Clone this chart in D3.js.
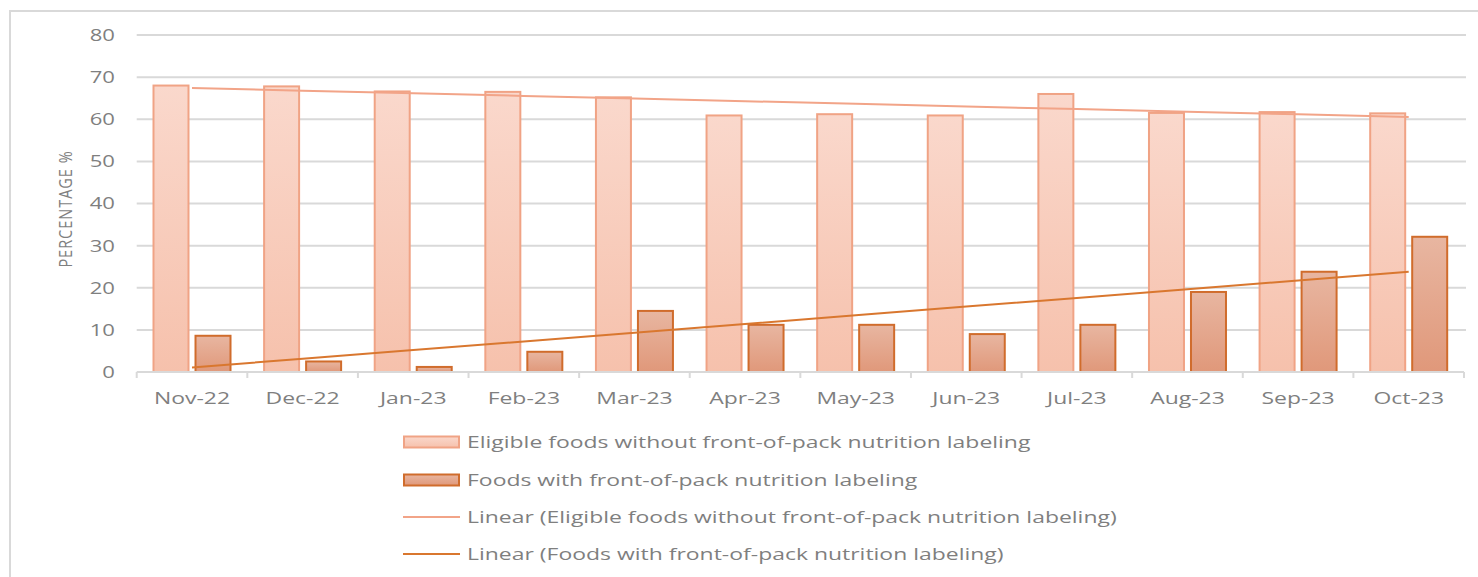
<!DOCTYPE html>
<html>
<head>
<meta charset="utf-8">
<script src="https://cdn.jsdelivr.net/npm/d3@7"></script>
<style>
  html, body { margin: 0; padding: 0; background: #ffffff; }
  svg { display: block; }
  text { font-family: "Open Sans", "Noto Sans", sans-serif; fill: #7f7f7f; }
</style>
</head>
<body>
<svg id="chart" width="1478" height="577"></svg>
<script>
// ---- data ----
const months = ["Nov-22","Dec-22","Jan-23","Feb-23","Mar-23","Apr-23","May-23","Jun-23","Jul-23","Aug-23","Sep-23","Oct-23"];
const eligibleWithout = [68.0, 67.8, 66.6, 66.5, 65.2, 60.9, 61.2, 60.9, 66.0, 61.5, 61.7, 61.4];
const withLabeling = [8.6, 2.5, 1.2, 4.8, 14.5, 11.2, 11.2, 9.0, 11.2, 19.0, 23.8, 32.1];
const yTicks = [0, 10, 20, 30, 40, 50, 60, 70, 80];
const legendLabels = [
  "Eligible foods without front-of-pack nutrition labeling",
  "Foods with front-of-pack nutrition labeling",
  "Linear (Eligible foods without front-of-pack nutrition labeling)",
  "Linear (Foods with front-of-pack nutrition labeling)"
];
const yTitle = "PERCENTAGE %";

// ---- layout ----
const SX = 1.3;   // horizontal glyph stretch seen in the reference
const SXL = 1.35; // legend / category labels stretch
const svg = d3.select("#chart");
const defs = svg.append("defs");

const g1 = defs.append("linearGradient").attr("id","gEl").attr("x1",0).attr("y1",0).attr("x2",0).attr("y2",1);
g1.append("stop").attr("offset","0%").attr("stop-color","#fad8cc");
g1.append("stop").attr("offset","100%").attr("stop-color","#f6c1ac");
const g2 = defs.append("linearGradient").attr("id","gFo").attr("x1",0).attr("y1",0).attr("x2",0).attr("y2",1);
g2.append("stop").attr("offset","0%").attr("stop-color","#e8b6a1");
g2.append("stop").attr("offset","100%").attr("stop-color","#e0987a");

const fills = ["url(#gEl)", "url(#gFo)"];
const strokes = ["#f0a385", "#d06c2c"];
const trendColors = ["#f2a488", "#d9772f"];

// outer border
svg.append("rect").attr("x",10).attr("y",11).attr("width",1500).attr("height",620)
  .attr("fill","none").attr("stroke","#d9d9d9").attr("stroke-width",2);

const x = d3.scaleBand().domain(months).range([136.7, 1464]).padding(0);
const xs = d3.scaleBand().domain([0,1]).range([0, x.bandwidth()]).paddingInner(0.1667).paddingOuter(0.4);
const y = d3.scaleLinear().domain([0, 80]).range([372, 35]);

// gridlines
svg.append("g").selectAll("line").data(yTicks.filter(d => d > 0)).join("line")
  .attr("x1", 136.7).attr("x2", 1466).attr("y1", d => y(d)).attr("y2", d => y(d))
  .attr("stroke", "#d9d9d9").attr("stroke-width", 2);

// y tick labels
svg.append("g").selectAll("text").data(yTicks).join("text")
  .attr("transform", d => `translate(115,${y(d)}) scale(${SX},1)`)
  .attr("text-anchor","end").attr("dy","0.35em")
  .style("font-size","17px").text(d => d);

// y title
svg.append("text")
  .attr("transform", `translate(72,209) scale(${SX},1) rotate(-90)`)
  .attr("text-anchor","middle")
  .style("font-size","14.5px").style("letter-spacing","1px").text(yTitle);

// bars
const data = [eligibleWithout, withLabeling];
data.forEach((vals, si) => {
  svg.append("g").selectAll("rect").data(vals).join("rect")
    .attr("x", (d,i) => x(months[i]) + xs(si))
    .attr("width", xs.bandwidth())
    .attr("y", d => y(d))
    .attr("height", d => y(0) - y(d))
    .attr("fill", fills[si])
    .attr("stroke", strokes[si]).attr("stroke-width", 2);
});

// x axis baseline, ticks, labels
const axG = svg.append("g").attr("transform", "translate(0,372)");
axG.append("line").attr("x1",136.7).attr("x2",1464).attr("stroke","#d9d9d9").attr("stroke-width",2);
const bounds = months.map(m => x(m)).concat([x(months[months.length-1]) + x.step()]);
axG.selectAll("line.tk").data(bounds).join("line").attr("class","tk")
  .attr("x1", d => d).attr("x2", d => d)
  .attr("y1", 0).attr("y2", 6).attr("stroke","#d9d9d9").attr("stroke-width",2);
axG.selectAll("text.lab").data(months).join("text").attr("class","lab")
  .attr("transform", d => `translate(${x(d) + x.bandwidth()/2},32) scale(${SXL},1)`)
  .attr("text-anchor","middle").style("font-size","17px").text(d => d);

// linear trend lines (least squares fit of each series, like a spreadsheet trendline)
function linfit(vals) {
  const idx = vals.map((v,i) => i + 1);
  const mx = d3.mean(idx), my = d3.mean(vals);
  let sxy = 0, sxx = 0;
  vals.forEach((v,i) => { sxy += (idx[i]-mx)*(v-my); sxx += (idx[i]-mx)**2; });
  const b = sxy / sxx, a = my - b*mx;
  return idx.map(t => a + b*t);
}
const line = d3.line().x((d,i) => x(months[i]) + x.bandwidth()/2).y(d => y(d));
data.forEach((vals, si) => {
  svg.append("path")
    .datum(linfit(vals))
    .attr("d", line)
    .attr("fill","none").attr("stroke", trendColors[si]).attr("stroke-width", 2);
});

// legend
const legY = [442, 480, 517, 554];
const lg = svg.append("g");
legendLabels.forEach((lab, i) => {
  if (i < 2) {
    lg.append("rect").attr("x",404).attr("y",legY[i]-5.5).attr("width",55).attr("height",11)
      .attr("fill", fills[i]).attr("stroke", strokes[i]).attr("stroke-width",2);
  } else {
    lg.append("line").attr("x1",403).attr("x2",460).attr("y1",legY[i]).attr("y2",legY[i])
      .attr("stroke", trendColors[i-2]).attr("stroke-width",2);
  }
  lg.append("text").attr("transform", `translate(467,${legY[i]}) scale(${SXL},1)`)
    .attr("dy","0.35em").style("font-size","17px").text(lab);
});
</script>
</body>
</html>
